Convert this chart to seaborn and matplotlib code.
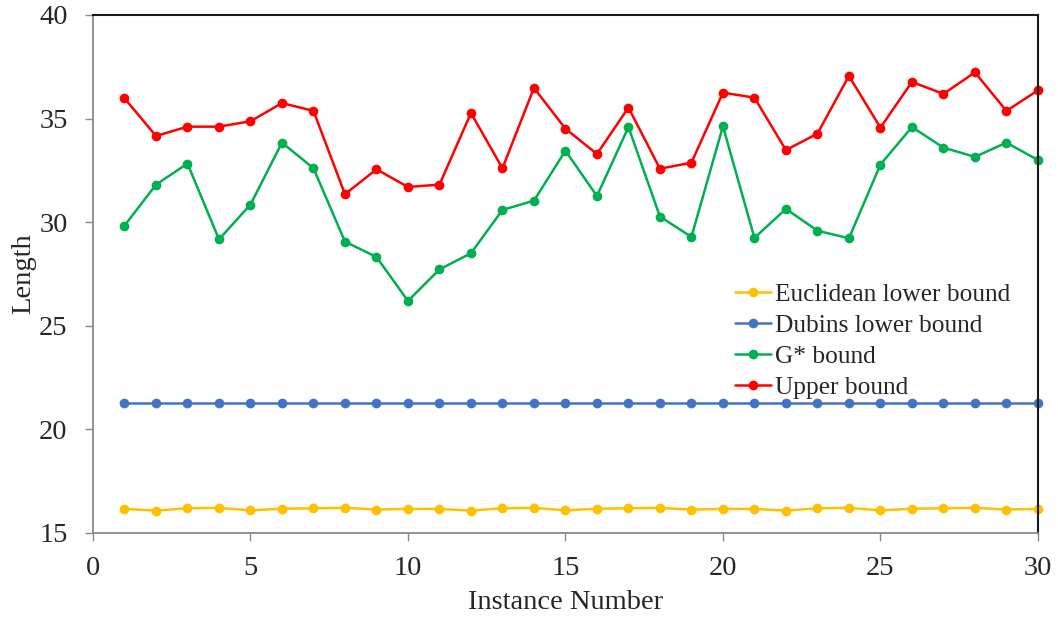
import numpy as np
import pandas as pd
import matplotlib
matplotlib.use("Agg")
import matplotlib.pyplot as plt
import seaborn as sns

instances = list(range(1, 31))
euclidean = [16.16, 16.08, 16.19, 16.21, 16.09, 16.17, 16.19, 16.21, 16.13, 16.16,
             16.16, 16.08, 16.19, 16.21, 16.09, 16.17, 16.19, 16.21, 16.13, 16.16,
             16.16, 16.08, 16.19, 16.21, 16.09, 16.17, 16.19, 16.21, 16.13, 16.16]
dubins = [21.26] * 30
gstar = [29.83, 31.81, 32.83, 29.17, 30.85, 33.84, 32.60, 29.06, 28.32, 26.20,
         27.72, 28.50, 30.59, 31.04, 33.45, 31.26, 34.59, 30.27, 29.29, 34.63,
         29.24, 30.64, 29.59, 29.22, 32.78, 34.59, 33.60, 33.15, 33.84, 33.00]
upper = [35.98, 34.16, 34.61, 34.61, 34.87, 35.75, 35.37, 31.35, 32.55, 31.70,
         31.81, 35.27, 32.60, 36.48, 34.51, 33.29, 35.53, 32.58, 32.87, 36.25,
         36.01, 33.48, 34.27, 37.06, 34.56, 36.77, 36.19, 37.23, 35.37, 36.36]
series_names = ["Euclidean lower bound", "Dubins lower bound", "G* bound", "Upper bound"]
colors = ["#FFC000", "#4472C4", "#00B050", "#FF0000"]

frames = []
for name, vals in zip(series_names, [euclidean, dubins, gstar, upper]):
    frames.append(pd.DataFrame({"Instance Number": instances, "Length": vals, "series": name}))
df = pd.concat(frames, ignore_index=True)

sns.set_style("ticks")
plt.rcParams["font.family"] = ["Liberation Serif", "DejaVu Serif"]

fig = plt.figure(figsize=(10.58, 6.19), dpi=100)
ax = fig.add_axes([0.0879, 0.139, 0.981 - 0.0879, 0.9758 - 0.139])

sns.lineplot(data=df, x="Instance Number", y="Length", hue="series",
             hue_order=series_names, palette=colors, marker="o",
             markersize=7, markeredgewidth=0, linewidth=1.8, ax=ax)
for line in ax.lines:
    line.set_clip_on(False)

ax.set_xlim(0, 30)
ax.set_ylim(15, 40)
ax.set_xticks([0, 5, 10, 15, 20, 25, 30])
ax.set_yticks([15, 20, 25, 30, 35, 40])
ax.tick_params(axis="both", labelsize=20.5, length=6, width=1, color="#898989", direction="out")
ax.tick_params(axis="x", pad=10.5)
ax.tick_params(axis="y", pad=12.3)
ax.set_xlabel("Instance Number", fontsize=20.5, labelpad=6.5)
ax.set_ylabel("Length", fontsize=20.5, labelpad=2)

for side in ["left", "bottom"]:
    ax.spines[side].set_color("#898989")
    ax.spines[side].set_linewidth(1.3)
for side in ["top", "right"]:
    ax.spines[side].set_visible(True)
    ax.spines[side].set_color("#1a1a1a")
    ax.spines[side].set_linewidth(1.5)

ax.legend(title=None, frameon=False, fontsize=18.3, loc="upper left",
          bbox_to_anchor=(0.679, 0.482), handlelength=1.45, handletextpad=0.15,
          labelspacing=0.32, borderaxespad=0, borderpad=0)

fig.savefig("out.png", dpi=100)
